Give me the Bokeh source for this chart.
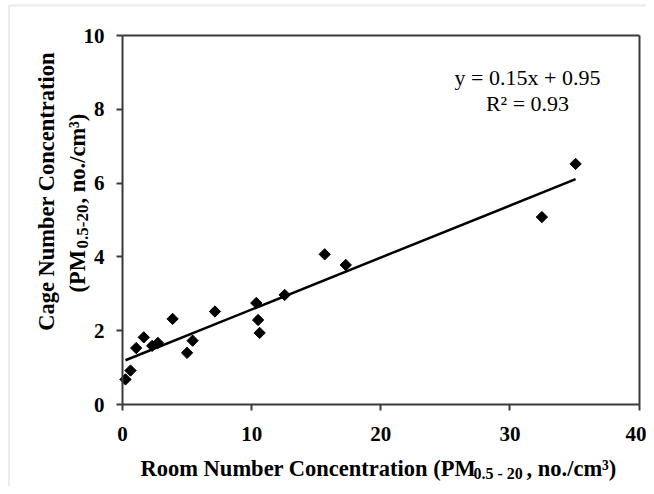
import numpy as np
from bokeh.plotting import figure
from bokeh.models import Label, Range1d, FixedTicker, BoxAnnotation, LinearAxis
from bokeh.embed import file_html
from bokeh.resources import INLINE

# ---- data ----
room = [0.23, 0.62, 1.06, 1.65, 2.30, 2.74, 3.88, 5.00, 5.43, 7.16,
        10.36, 10.50, 10.62, 12.56, 15.66, 17.29, 32.48, 35.09]
cage = [0.68, 0.92, 1.53, 1.82, 1.59, 1.67, 2.32, 1.40, 1.73, 2.52,
        2.75, 2.29, 1.94, 2.97, 4.07, 3.78, 5.08, 6.52]
x_ticks = [0, 10, 20, 30, 40]
y_ticks = [0, 2, 4, 6, 8, 10]
eq_lines = ["y = 0.15x + 0.95", "R\u00b2 = 0.93"]

FONT = "Liberation Serif"
AX = "#3a3a3a"
TS = "22.5px"

# ---- layout (pixel geometry of the plot area on the canvas) ----
W, H = 646, 486
PL, PR, PT, PB = 122.0, 638.5, 35.0, 404.0     # plot-area edges in px
XMIN, XMAX, YMIN, YMAX = 0, 40, 0, 10
kx = (PR - PL) / (XMAX - XMIN)
ky = (PB - PT) / (YMAX - YMIN)

def dx(px):
    return XMIN + (px - PL) / kx

def dy(py):
    return YMIN + (PB - py) / ky

p = figure(width=W, height=H, output_backend="svg", toolbar_location=None,
           x_range=Range1d(dx(0), dx(W)), y_range=Range1d(dy(H), dy(0)),
           min_border=0, x_axis_location=None, y_axis_location=None)
p.background_fill_color = "white"
p.border_fill_color = "white"
p.outline_line_color = None
p.xgrid.visible = False
p.ygrid.visible = False

def make_axis(side, loc, ticks, bounds, labels=True):
    ax = LinearAxis(fixed_location=loc, bounds=bounds,
                    ticker=FixedTicker(ticks=ticks if labels else []))
    ax.minor_tick_line_color = None
    ax.major_tick_in = 0
    ax.major_tick_out = 6 if labels else 0
    ax.major_tick_line_width = 2
    ax.major_tick_line_color = AX
    ax.axis_line_width = 2
    ax.axis_line_color = AX
    ax.major_label_text_font = FONT
    ax.major_label_text_font_style = "bold"
    ax.major_label_text_font_size = "21px" if labels else "0px"
    ax.major_label_text_color = "black"
    p.add_layout(ax, side)
    return ax

xa = make_axis("below", YMIN, x_ticks, (XMIN, XMAX))
xa.major_label_standoff = 16
ya = make_axis("left", XMIN, y_ticks, (YMIN, YMAX))
ya.major_label_standoff = 12
make_axis("above", YMAX, [], (XMIN, XMAX), labels=False)
make_axis("right", XMAX, [], (YMIN, YMAX), labels=False)

# trend line (least squares of the points)
slope, icpt = np.polyfit(room, cage, 1)
xl = np.array([min(room), max(room)])
p.line(xl, slope * xl + icpt, line_color="black", line_width=2.5)

p.scatter(room, cage, marker="square", angle=np.pi / 4, size=8,
          fill_color="black", line_color="black")

# equation text
for t, py in zip(eq_lines, (76.7, 102.7)):
    p.add_layout(Label(x=dx(527), y=dy(py), text=t, text_align="center",
                       text_baseline="alphabetic", text_font=FONT,
                       text_font_size="22px", text_color="black"))

def lab(px, py, t, size=TS, angle=0.0, align="left"):
    p.add_layout(Label(x=dx(px), y=dy(py), text=t, angle=angle, text_align=align,
                       text_baseline="alphabetic", text_font=FONT,
                       text_font_style="bold", text_font_size=size,
                       text_color="black"))

# x-axis title with subscript
lab(140, 468, "Room Number Concentration (PM")
lab(473, 473, "0.5 - 20", size="16px")
lab(526, 468, ", no./cm\u00b3)")

# y-axis title (two lines, rotated)
A = np.pi / 2
lab(46, 191, "Cage Number Concentration", angle=A, align="center")
lab(77, 292, "(PM", angle=A)
lab(82, 248, "0.5-20", size="17px", angle=A)
lab(77, 203, ", no./cm\u00b3)", angle=A)

# outer chart-area border (top-left corner visible)
p.add_layout(BoxAnnotation(left=dx(8.5), right=dx(W + 50), bottom=dy(H + 50), top=dy(5),
                           fill_alpha=0, line_color="#bdbdbd", line_width=2))

open("out.html", "w").write(file_html(p, INLINE))
